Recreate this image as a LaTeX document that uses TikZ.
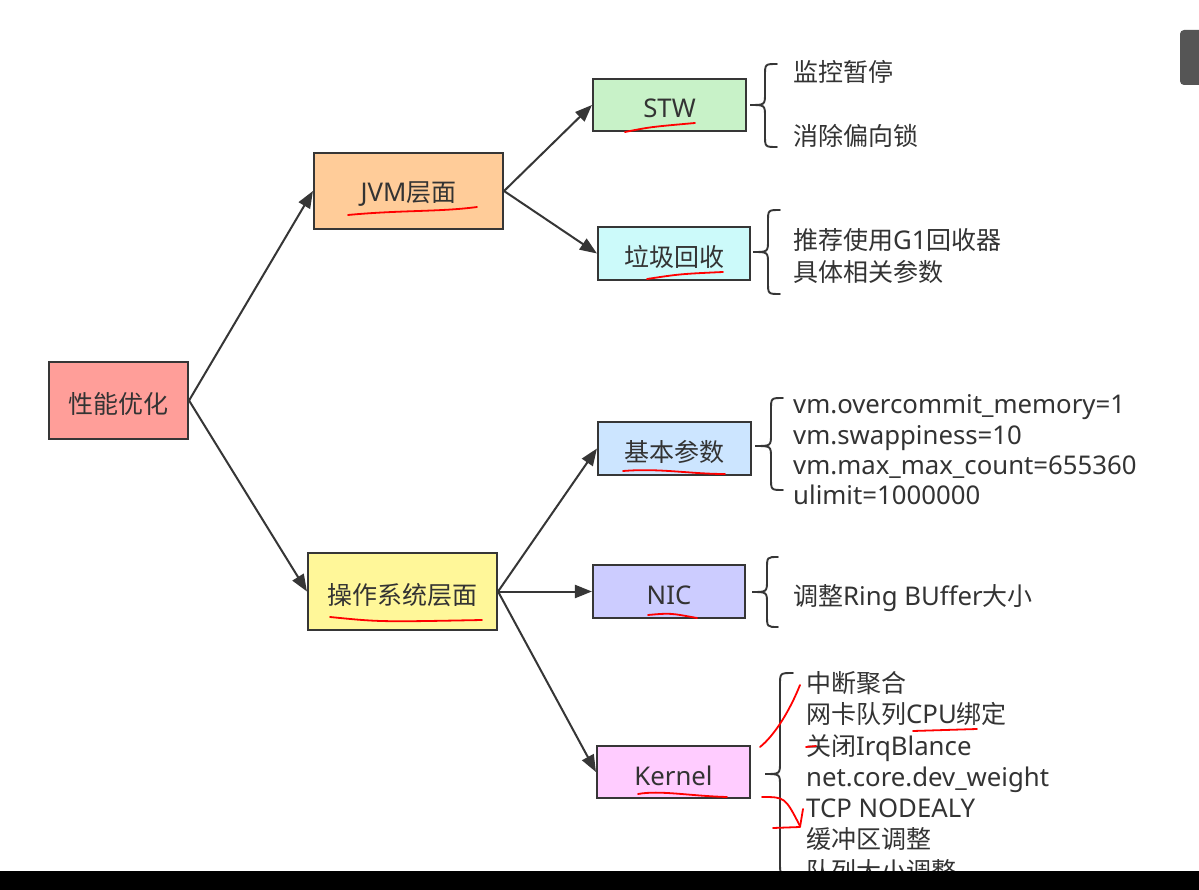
\documentclass[tikz,border=0pt]{standalone}
\usepackage{fontspec}
\setmainfont[Scale=1.03]{Noto Sans}
\newfontfamily\cjk{Noto Sans CJK SC}
\newcommand{\C}[1]{{\cjk #1}}
\newcommand{\lo}[1]{\raisebox{-3.5pt}[\height][\depth]{#1}}
\usetikzlibrary{arrows.meta}
\definecolor{ln}{HTML}{363636}
\definecolor{tx}{HTML}{333333}
\definecolor{cRoot}{HTML}{FF9E99}
\definecolor{cJvm}{HTML}{FFCC99}
\definecolor{cOs}{HTML}{FFF799}
\definecolor{cStw}{HTML}{C8F2C8}
\definecolor{cGc}{HTML}{CCFAFA}
\definecolor{cBase}{HTML}{CCE5FF}
\definecolor{cNic}{HTML}{CCCCFF}
\definecolor{cKer}{HTML}{FFCCFF}
\definecolor{pen}{HTML}{FF0000}
\definecolor{tab}{HTML}{555555}
\newcommand{\mybrace}[6]{\draw[brc] (#3,#4) .. controls (#2,#4) .. (#2,#4+12) -- (#2,#5-12) .. controls (#2,#5) .. (#1,#5) .. controls (#2,#5) .. (#2,#5+12) -- (#2,#6-12) .. controls (#2,#6) .. (#3,#6);}
\begin{document}
\begin{tikzpicture}[x=1pt,y=-1pt,
  box/.style={draw=ln, line width=2.1pt, inner sep=0pt, text=tx, font=\fontsize{25}{30}\selectfont},
  arr/.style={draw=ln, line width=2pt, -{Triangle[length=17pt,width=13pt]}},
  note/.style={anchor=base west, inner sep=0pt, text=tx, font=\fontsize{25}{30}\selectfont},
  brc/.style={draw=ln, line width=1.9pt, line cap=round},
  redpen/.style={draw=pen, line width=1.8pt, line cap=round, line join=round}]
\useasboundingbox (0,0) rectangle (1199,890);
\fill[white] (0,0) rectangle (1199,890);

% boxes
\node[box, fill=cRoot, minimum width=139pt, minimum height=77pt] (root) at (118.5,400.5) {\lo{\C{性能优化}}};
\node[box, fill=cJvm, minimum width=189pt, minimum height=76pt] (jvm) at (408.5,191) {\lo{JVM\C{层面}}};
\node[box, fill=cOs, minimum width=189pt, minimum height=77pt] (os) at (402.5,591.5) {\lo{\C{操作系统层面}}};
\node[box, fill=cStw, minimum width=153pt, minimum height=52pt] (stw) at (669.5,105) {\lo{STW}};
\node[box, fill=cGc, minimum width=152pt, minimum height=53pt] (gc) at (674,253.5) {\lo{\C{垃圾回收}}};
\node[box, fill=cBase, minimum width=153pt, minimum height=53pt] (base) at (674.5,448.5) {\lo{\C{基本参数}}};
\node[box, fill=cNic, minimum width=152pt, minimum height=53pt] (nic) at (669,591.5) {\lo{NIC}};
\node[box, fill=cKer, minimum width=153pt, minimum height=52pt] (ker) at (673.5,772) {\lo{Kernel}};

% connectors
\draw[arr] (root.east) -- (jvm.west);
\draw[arr] (root.east) -- (os.west);
\draw[arr] (jvm.east) -- (stw.west);
\draw[arr] (jvm.east) -- (gc.west);
\draw[arr] (os.east) -- (base.west);
\draw[arr] (os.east) -- (nic.west);
\draw[arr] (os.east) -- (ker.west);

% braces
\mybrace{750}{765}{777}{64}{105}{147}
\mybrace{753}{768}{780}{210}{252}{294}
\mybrace{755}{771}{783}{398}{446}{490}
\mybrace{752}{767}{778}{557}{592}{627}
\mybrace{765}{780}{793}{673}{774}{875}

% notes
\node[note] (n1) at (793,82) {\C{监控暂停}};
\node[note] (n2) at (793,146) {\C{消除偏向锁}};
\node[note] (n3) at (793,250) {\C{推荐使用}G1\C{回收器}};
\node[note] (n4) at (793,282) {\C{具体相关参数}};
\node[note] (n5) at (793,413) {vm.overcommit\_memory=1};
\node[note] (n6) at (793,444) {vm.swappiness=10};
\node[note] (n7) at (793,474) {vm.max\_max\_count=655360};
\node[note] (n8) at (793,504) {ulimit=1000000};
\node[note] (n9) at (793,605) {\C{调整}Ring BUffer\C{大小}};
\node[note] (k1) at (806,692) {\C{中断聚合}};
\node[note] (k2) at (806,723) {\C{网卡队列}CPU\C{绑定}};
\node[note] (k3) at (806,755) {\C{关闭}IrqBlance};
\node[note] (k4) at (806,786) {net.core.dev\_weight};
\node[note] (k5) at (806,817) {TCP NODEALY};
\node[note] (k6) at (806,848) {\C{缓冲区调整}};
\node[note] (k7) at (806,880) {\C{队列大小调整}};

% red pen annotations
\draw[redpen] (348,215) .. controls (400,210) and (440,212) .. (477,207);
\draw[redpen] (625,132) .. controls (650,127) .. (695,123);
\draw[redpen] (647,279) .. controls (680,274) .. (723,272);
\draw[redpen] (623,471) .. controls (660,468) and (690,474) .. (725,474);
\draw[redpen] (330,617) .. controls (380,622) .. (482,620);
\draw[redpen] (648,615) .. controls (670,613) .. (697,618);
\draw[redpen] (638,794) .. controls (660,790) and (690,796) .. (727,797);
\draw[redpen] (913,731) -- (977,729);
\draw[redpen] (760,747) .. controls (775,735) and (790,710) .. (800,685);
\draw[redpen] (806,747) -- (816,746);
\draw[redpen] (762,797) .. controls (785,797) .. (800,826);
\draw[redpen] (773,828) -- (800,827) -- (803,809);

% screen elements
\fill[tab, rounded corners=4pt] (1180,30) rectangle (1210,85);
\fill[black] (0,871) rectangle (1199,890);
\end{tikzpicture}
\end{document}
